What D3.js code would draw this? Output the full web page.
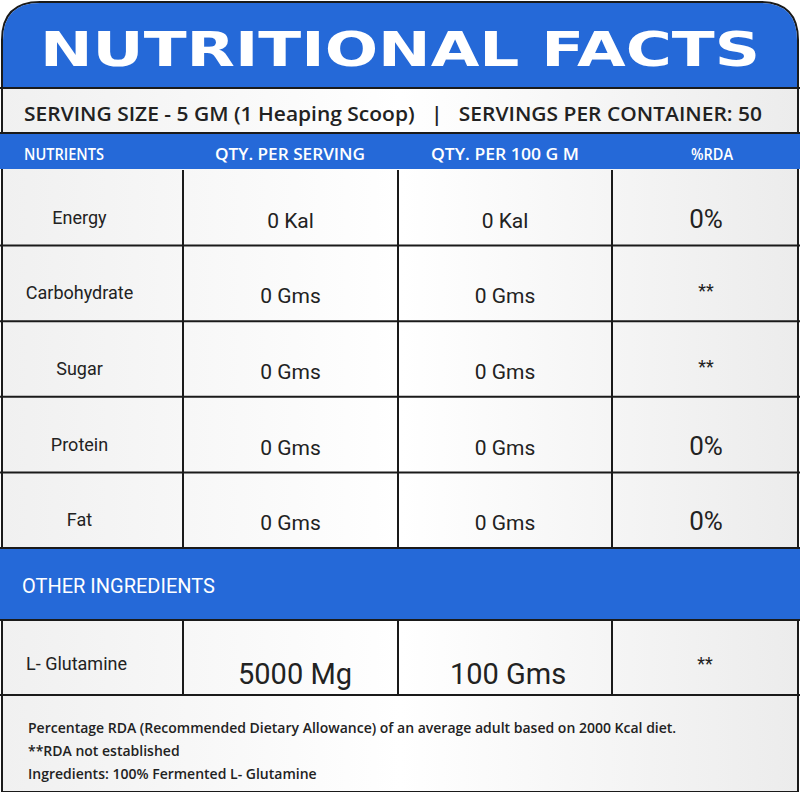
<!DOCTYPE html>
<html><head><meta charset="utf-8">
<script src="https://cdn.jsdelivr.net/npm/d3@7"></script>
<style>body{margin:0;background:#fff}</style></head>
<body><svg id="c" width="800" height="792"></svg>
<script>
const title = "NUTRITIONAL FACTS";
const servingText = "SERVING SIZE - 5 GM (1 Heaping Scoop)   |   SERVINGS PER CONTAINER: 50";
const headers = ["NUTRIENTS","QTY. PER SERVING","QTY. PER 100 G M","%RDA"];
const nutrients = ["Energy","Carbohydrate","Sugar","Protein","Fat"];
const perServing = ["0 Kal","0 Gms","0 Gms","0 Gms","0 Gms"];
const per100 = ["0 Kal","0 Gms","0 Gms","0 Gms","0 Gms"];
const rda = ["0%","**","**","0%","0%"];
const otherLabel = "OTHER INGREDIENTS";
const other = ["L- Glutamine","5000 Mg","100 Gms","**"];
const footnotes = ["Percentage RDA (Recommended Dietary Allowance) of an average adult based on 2000 Kcal diet.","**RDA not established","Ingredients: 100% Fermented L- Glutamine"];

const svg = d3.select("#c");
const blue = "#2569d8", dark = "#1a1a1a";
const colEdges = [0,183,398,612,800];
const rowY = d3.scaleBand().domain(d3.range(nutrients.length)).range([170,548]);
const F = "Roboto";

const grad = svg.append("defs").append("linearGradient").attr("id","g").attr("x1",0).attr("x2",1);
grad.append("stop").attr("offset",0).attr("stop-color","#f0f0f0");
grad.append("stop").attr("offset",0.5).attr("stop-color","#ffffff");
grad.append("stop").attr("offset",1).attr("stop-color","#ececec");
svg.append("path").attr("d","M2,792 L2,40 Q2,2 40,2 L760,2 Q798,2 798,40 L798,792 Z")
  .attr("fill","url(#g)").attr("stroke",dark).attr("stroke-width",2);
svg.append("path").attr("d","M3,88 L3,40 Q3,3 40,3 L760,3 Q797,3 797,40 L797,88 Z").attr("fill",blue);
svg.append("text").attr("x",400).attr("y",66).attr("text-anchor","middle").attr("fill","#fff")
  .attr("font-family","DejaVu Sans").attr("font-weight","bold").attr("font-size",48)
  .attr("textLength",720).attr("lengthAdjust","spacingAndGlyphs").text(title);
svg.append("line").attr("x1",0).attr("x2",800).attr("y1",88).attr("y2",88).attr("stroke",dark).attr("stroke-width",2);
svg.append("text").attr("x",24).attr("y",121).attr("fill","#222").attr("font-family","Open Sans").attr("font-weight","600")
  .attr("font-size",19).style("white-space","pre").attr("textLength",738).attr("lengthAdjust","spacingAndGlyphs").text(servingText);
svg.append("rect").attr("x",0).attr("y",133).attr("width",800).attr("height",36).attr("fill",blue);
svg.append("line").attr("x1",0).attr("x2",800).attr("y1",133).attr("y2",133).attr("stroke",dark).attr("stroke-width",2);
const hx=[24,290,505,712], hw=[80,150,148,42];
headers.forEach((h,i)=>svg.append("text").attr("x",i?hx[i]-hw[i]/2:hx[i]).attr("y",160)
  .attr("fill","#fff").attr("font-family","Open Sans").attr("font-weight","600").attr("font-size",16)
  .attr("textLength",hw[i]).attr("lengthAdjust","spacingAndGlyphs").text(h));
const g = svg.append("g");
const cols=[perServing,per100,rda];
nutrients.forEach((n,i)=>{
  const y=rowY(i), h=rowY.bandwidth(), cy=y+h/2+20;
  g.append("line").attr("x1",0).attr("x2",800).attr("y1",y+h).attr("y2",y+h).attr("stroke",dark).attr("stroke-width",2);
  g.append("text").attr("x",(colEdges[0]+colEdges[1])/2-12).attr("y",y+h/2+16).attr("text-anchor","middle")
    .attr("font-family",F).attr("font-size",18).attr("fill","#222").text(n);
  cols.forEach((c,j)=>g.append("text").attr("x",(colEdges[j+1]+colEdges[j+2])/2-(j==2?0:0)).attr("y",c[i]==="**"?cy-6:cy)
    .attr("text-anchor","middle").attr("font-family",F).attr("font-size",c[i]==="**"?18:(j==2?26:21)).attr("fill","#222").text(c[i]));
});
[1,2,3].forEach(k=>g.append("line").attr("x1",colEdges[k]).attr("x2",colEdges[k]).attr("y1",170).attr("y2",548).attr("stroke",dark).attr("stroke-width",2));
svg.append("rect").attr("x",0).attr("y",549).attr("width",800).attr("height",70).attr("fill",blue);
svg.append("text").attr("x",22).attr("y",593).attr("fill","#fff").attr("font-family",F).attr("font-size",20).text(otherLabel);
svg.append("line").attr("x1",0).attr("x2",800).attr("y1",620).attr("y2",620).attr("stroke",dark).attr("stroke-width",2);
svg.append("line").attr("x1",0).attr("x2",800).attr("y1",695).attr("y2",695).attr("stroke",dark).attr("stroke-width",2);
[1,2,3].forEach(k=>svg.append("line").attr("x1",colEdges[k]).attr("x2",colEdges[k]).attr("y1",620).attr("y2",695).attr("stroke",dark).attr("stroke-width",2));
const ox=[26,295,508,705], os=[18,29,29,18];
other.forEach((t,i)=>svg.append("text").attr("x",ox[i]).attr("y",i==0?670:(i==3?670:684)).attr("text-anchor",i?"middle":"start")
  .attr("font-family",F).attr("font-size",os[i]).attr("fill","#222").text(t));
footnotes.forEach((t,i)=>svg.append("text").attr("x",28).attr("y",733+i*23).attr("font-family","Open Sans").attr("font-weight","600")
  .attr("font-size",14).attr("fill","#222").text(t));
</script></body></html>
